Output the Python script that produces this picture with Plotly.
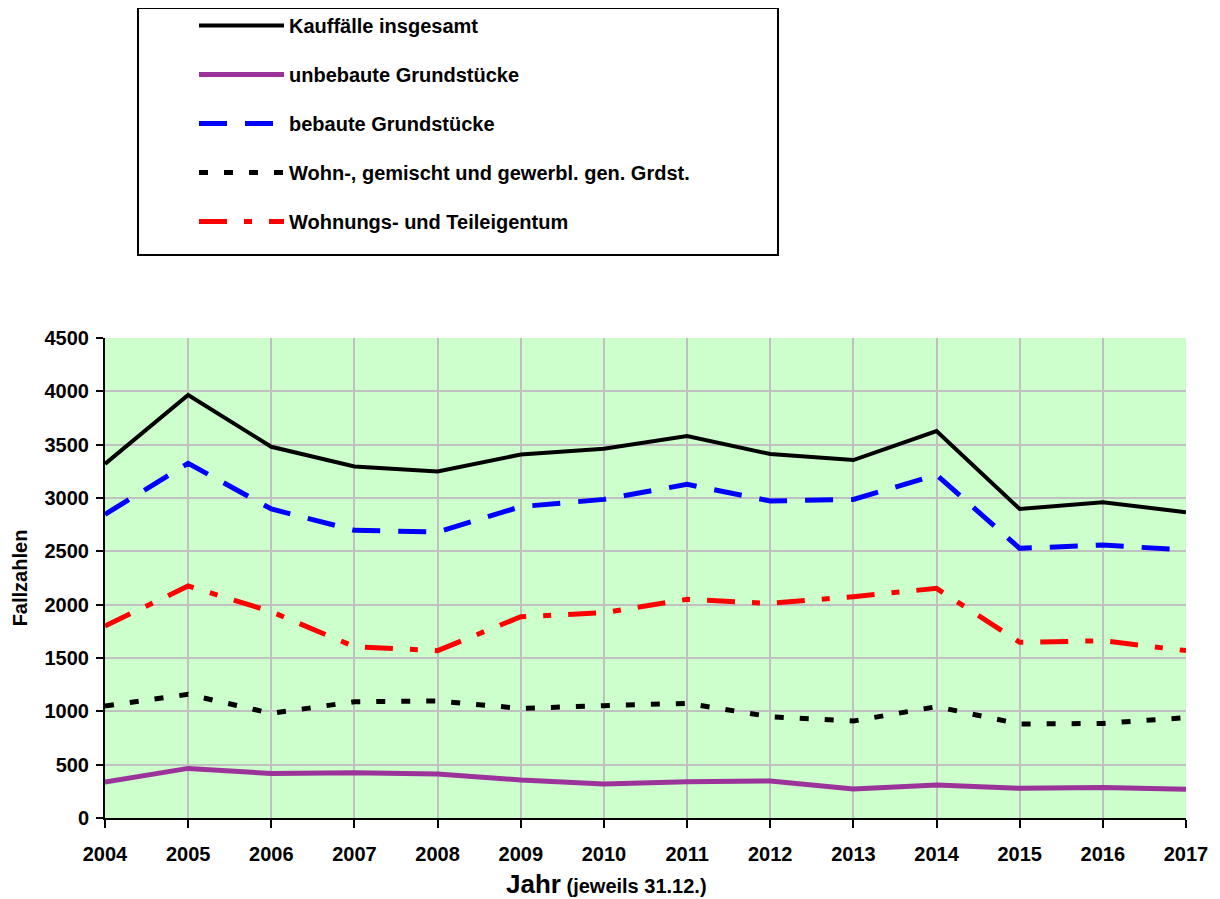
import plotly.graph_objects as go

years = [2004, 2005, 2006, 2007, 2008, 2009, 2010, 2011, 2012, 2013, 2014, 2015, 2016, 2017]
kauf_gesamt = [3320, 3966, 3480, 3295, 3248, 3408, 3462, 3581, 3412, 3356, 3628, 2897, 2960, 2867]
unbebaut = [337, 465, 417, 425, 412, 356, 319, 341, 347, 272, 309, 278, 287, 269]
bebaut = [2847, 3325, 2897, 2697, 2681, 2919, 2987, 3128, 2972, 2987, 3216, 2528, 2559, 2512]
wohn_gem_gew = [1050, 1159, 981, 1090, 1097, 1028, 1053, 1075, 950, 909, 1044, 881, 887, 941]
wohnungseigentum = [1800, 2175, 1934, 1606, 1569, 1887, 1925, 2050, 2012, 2075, 2153, 1647, 1662, 1569]

names = ["Kauffälle insgesamt", "unbebaute Grundstücke", "bebaute Grundstücke",
         "Wohn-, gemischt und gewerbl. gen. Grdst.", "Wohnungs- und Teileigentum"]
y_ticks = [0, 500, 1000, 1500, 2000, 2500, 3000, 3500, 4000, 4500]

FONT = "Liberation Sans, Arial, sans-serif"

series = [
    (kauf_gesamt, dict(color="#000000", width=4, dash="solid")),
    (unbebaut, dict(color="#9b339b", width=5, dash="solid")),
    (bebaut, dict(color="#0000ff", width=5, dash="28px,18px")),
    (wohn_gem_gew, dict(color="#000000", width=5, dash="9px,16px")),
    (wohnungseigentum, dict(color="#ff0000", width=5, dash="28px,17px,8px,17px")),
]

fig = go.Figure()
for i, ((vals, line), name) in enumerate(zip(series, names)):
    fig.add_trace(go.Scatter(x=years, y=vals, mode="lines", name=name, line=line,
                             legendgroup=f"g{i}"))

# figure is drawn 8px right/down of the window corner (page margin)
W, H = 1212, 891
ML, MR, MT, MB = 97, 34, 330, 81
PW, PH = W - ML - MR, H - MT - MB

def px_x(x):
    return (x - ML) / PW

def px_y(y):
    return (H - MB - y) / PH

fig.update_layout(
    width=W, height=H,
    margin=dict(l=ML, r=MR, t=MT, b=MB, autoexpand=False),
    paper_bgcolor="white",
    plot_bgcolor="#ccffcc",
    font=dict(family=FONT, size=18, color="black"),
    showlegend=True,
    legend=dict(
        x=px_x(186), y=px_y(-2), xanchor="left", yanchor="top",
        bgcolor="rgba(0,0,0,0)", borderwidth=0,
        font=dict(family=FONT, size=20, color="black", weight="bold"),
        itemwidth=85, tracegroupgap=20,
        traceorder="grouped",
    ),
    shapes=[dict(type="rect", xref="paper", yref="paper",
                 x0=px_x(130), x1=px_x(770),
                 y0=px_y(247), y1=px_y(0),
                 line=dict(color="black", width=2), fillcolor="white", layer="below")],
    annotations=[dict(
        xref="paper", yref="paper", x=px_x(598), y=px_y(876),
        xanchor="center", yanchor="middle", showarrow=False,
        text="<b><span style='font-size:26px'>Jahr</span> (jeweils 31.12.)</b>",
        font=dict(family=FONT, size=20, color="black"),
    )],
)

fig.update_xaxes(
    range=[2004, 2017], tickvals=years, ticktext=[str(y) for y in years],
    showgrid=True, gridcolor="#c0c0c0", gridwidth=2,
    showline=True, linecolor="black", linewidth=2,
    ticks="outside", ticklen=8, tickcolor="black", tickwidth=2,
    ticklabelstandoff=9,
    tickfont=dict(family=FONT, size=20, weight="bold"),
    zeroline=False,
)
fig.update_yaxes(
    range=[0, 4500], tickvals=y_ticks,
    showgrid=True, gridcolor="#c0c0c0", gridwidth=2,
    showline=True, linecolor="black", linewidth=2,
    ticks="outside", ticklen=7, tickcolor="black", tickwidth=2,
    ticklabelstandoff=3,
    tickfont=dict(family=FONT, size=20, weight="bold"),
    title=dict(text="<b>Fallzahlen</b>", font=dict(family=FONT, size=20), standoff=12),
    zeroline=False,
)

fig.write_html("out.html")
